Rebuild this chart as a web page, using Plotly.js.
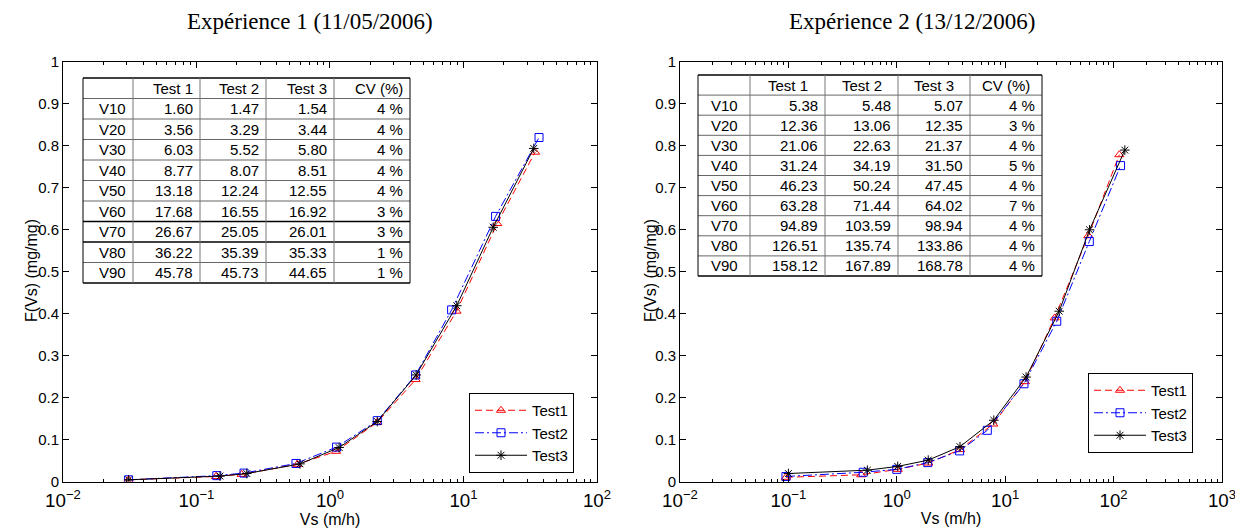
<!DOCTYPE html>
<html>
<head>
<meta charset="utf-8">
<script src="https://cdn.plot.ly/plotly-3.0.1.min.js"></script>
<style>html,body{margin:0;padding:0;background:#fff;}#chart{width:1235px;height:532px;}</style>
</head>
<body>
<div id="chart"></div>
<script>
// ---------- Data ----------
const seriesNames = ['Test1', 'Test2', 'Test3'];

// Expérience 1 (11/05/2006)
const exp1_test1_vs = [0.031, 0.140, 0.218, 0.570, 1.11, 2.26, 4.38, 8.87, 17.9, 34.4];
const exp1_test1_f  = [0.004, 0.012, 0.017, 0.041, 0.072, 0.141, 0.243, 0.406, 0.615, 0.785];
const exp1_test2_vs = [0.031, 0.142, 0.227, 0.556, 1.12, 2.26, 4.38, 8.15, 17.4, 36.8];
const exp1_test2_f  = [0.004, 0.014, 0.020, 0.043, 0.082, 0.145, 0.254, 0.409, 0.632, 0.820];
const exp1_test3_vs = [0.031, 0.150, 0.238, 0.596, 1.17, 2.26, 4.42, 8.90, 16.7, 33.6];
const exp1_test3_f  = [0.004, 0.013, 0.019, 0.042, 0.081, 0.143, 0.254, 0.419, 0.606, 0.794];

// Expérience 2 (13/12/2006)
const exp2_test1_vs = [0.095, 0.47, 1.02, 1.95, 3.83, 7.76, 15.2, 28.6, 58.5, 113];
const exp2_test1_f  = [0.010, 0.016, 0.029, 0.044, 0.076, 0.137, 0.238, 0.390, 0.586, 0.779];
const exp2_test2_vs = [0.095, 0.49, 1.00, 1.93, 3.80, 6.84, 14.9, 29.9, 59.7, 116];
const exp2_test2_f  = [0.012, 0.022, 0.029, 0.045, 0.073, 0.122, 0.233, 0.382, 0.572, 0.753];
const exp2_test3_vs = [0.100, 0.535, 1.02, 1.95, 3.83, 7.85, 15.6, 31.5, 60.0, 127];
const exp2_test3_f  = [0.019, 0.027, 0.036, 0.051, 0.083, 0.146, 0.249, 0.406, 0.600, 0.790];

// Axis tick label aliases (Plotly prints 10^0 and 10^1 as "1" and "10")
const xTickAlias = {'1': '10<sup>0</sup>', '10': '10<sup>1</sup>'};

// Tables
const tableHeader = ['', 'Test 1', 'Test 2', 'Test 3', 'CV (%)'];
const tableRows = ['V10', 'V20', 'V30', 'V40', 'V50', 'V60', 'V70', 'V80', 'V90'];
const exp1_tab_test1 = [1.60, 3.56, 6.03, 8.77, 13.18, 17.68, 26.67, 36.22, 45.78];
const exp1_tab_test2 = [1.47, 3.29, 5.52, 8.07, 12.24, 16.55, 25.05, 35.39, 45.73];
const exp1_tab_test3 = [1.54, 3.44, 5.80, 8.51, 12.55, 16.92, 26.01, 35.33, 44.65];
const exp1_tab_cv    = [4, 4, 4, 4, 4, 3, 3, 1, 1];
const exp2_tab_test1 = [5.38, 12.36, 21.06, 31.24, 46.23, 63.28, 94.89, 126.51, 158.12];
const exp2_tab_test2 = [5.48, 13.06, 22.63, 34.19, 50.24, 71.44, 103.59, 135.74, 167.89];
const exp2_tab_test3 = [5.07, 12.35, 21.37, 31.50, 47.45, 64.02, 98.94, 133.86, 168.78];
const exp2_tab_cv    = [4, 3, 4, 5, 4, 7, 4, 4, 4];

const titles = ['Expérience 1 (11/05/2006)', 'Expérience 2 (13/12/2006)'];
const xTitle = 'Vs (m/h)';
const yTitle = 'F(Vs) (mg/mg)';

// ---------- Layout helpers ----------
const W = 1235, H = 532;
const px = x => x / W;
const py = y => 1 - y / H;
const SANS = 'Liberation Sans, Arial, sans-serif';
const SERIF = 'Liberation Serif, Times New Roman, serif';

const styles = [
  {color: '#ff0000', dash: '7px,4px', symbol: 'triangle-up-open'},
  {color: '#0000ff', dash: '9px,3px,2px,3px', symbol: 'square-open'},
  {color: '#000000', dash: 'solid', symbol: 'asterisk-open'}
];

function mk(xs, ys, i, xa, ya, leg) {
  const s = styles[i];
  return {
    x: xs, y: ys, type: 'scatter', mode: 'lines+markers', name: seriesNames[i],
    xaxis: xa, yaxis: ya, legend: leg,
    line: {color: s.color, width: 1, dash: s.dash},
    marker: {symbol: s.symbol, size: 8, color: s.color, line: {color: s.color, width: 1}}
  };
}

const traces = [
  mk(exp1_test1_vs, exp1_test1_f, 0, 'x', 'y', 'legend'),
  mk(exp1_test2_vs, exp1_test2_f, 1, 'x', 'y', 'legend'),
  mk(exp1_test3_vs, exp1_test3_f, 2, 'x', 'y', 'legend'),
  mk(exp2_test1_vs, exp2_test1_f, 0, 'x2', 'y2', 'legend2'),
  mk(exp2_test2_vs, exp2_test2_f, 1, 'x2', 'y2', 'legend2'),
  mk(exp2_test3_vs, exp2_test3_f, 2, 'x2', 'y2', 'legend2')
];

const yDom = [py(481.5), py(62)];
function xAxis(dom, rng, anchor) {
  return {
    type: 'log', domain: dom, range: rng, anchor: anchor,
    tickmode: 'linear', tick0: 0, dtick: 1, exponentformat: 'power', showexponent: 'all',
    labelalias: xTickAlias, ticklabelstandoff: 3, ticklabeloverflow: 'allow',
    showline: true, linecolor: '#000', linewidth: 1, mirror: 'allticks',
    ticks: 'inside', ticklen: 6, tickcolor: '#000', showgrid: false, zeroline: false,
    minor: {ticks: 'inside', ticklen: 3, tickcolor: '#000', showgrid: false},
    tickfont: {family: SANS, size: 15, color: '#000'},
    title: {text: xTitle, font: {family: SANS, size: 16, color: '#000'}, standoff: 2}
  };
}
function yAxis(anchor) {
  return {
    domain: yDom, range: [0, 1], anchor: anchor, dtick: 0.1,
    showline: true, linecolor: '#000', linewidth: 1, mirror: 'allticks',
    ticks: 'inside', ticklen: 6, tickcolor: '#000', showgrid: false, zeroline: false,
    tickfont: {family: SANS, size: 15, color: '#000'}
  };
}

const shapes = [];
const annotations = [];

function addTable(cols, top, rowH, c1, c2, c3, cv, opt) {
  const nRows = tableRows.length + 1;
  const bottom = top + rowH * nRows;
  const left = cols[0], right = cols[cols.length - 1];
  for (let r = 0; r <= nRows; r++) {
    const y = top + r * rowH;
    const outer = (r === 0 || r === nRows);
    const dark = outer || (opt.darkRows && opt.darkRows.indexOf(r) >= 0);
    shapes.push({type: 'line', xref: 'paper', yref: 'paper',
      x0: px(left), x1: px(right), y0: py(y), y1: py(y),
      line: {color: dark ? '#000' : '#666', width: dark ? 1.3 : 1}});
  }
  cols.forEach((x, k) => {
    const outer = (k === 0 || k === cols.length - 1);
    shapes.push({type: 'line', xref: 'paper', yref: 'paper',
      x0: px(x), x1: px(x), y0: py(top), y1: py(bottom),
      line: {color: outer ? '#000' : '#777', width: 1}});
  });
  const font = {family: SANS, size: 15, color: '#000'};
  tableHeader.forEach((t, k) => {
    if (!t) return;
    const xc = opt.headerCenter ? (cols[k] + cols[k + 1]) / 2 : cols[k + 1] - 5;
    annotations.push({xref: 'paper', yref: 'paper', x: px(xc), y: py(top + rowH / 2),
      text: t, showarrow: false, xanchor: opt.headerCenter ? 'center' : 'right', yanchor: 'middle', font: font});
  });
  tableRows.forEach((lab, r) => {
    const yc = py(top + rowH * (r + 1.5));
    const x0 = opt.labelCenter ? (cols[0] + cols[1]) / 2 : cols[1] - 5;
    annotations.push({xref: 'paper', yref: 'paper', x: px(x0), y: yc, text: lab, showarrow: false,
      xanchor: opt.labelCenter ? 'center' : 'right', yanchor: 'middle', font: font});
    [c1, c2, c3].forEach((arr, k) => {
      annotations.push({xref: 'paper', yref: 'paper', x: px(cols[k + 2] - 5), y: yc,
        text: arr[r].toFixed(2), showarrow: false, xanchor: 'right', yanchor: 'middle', font: font});
    });
    annotations.push({xref: 'paper', yref: 'paper', x: px(cols[5] - 5), y: yc,
      text: cv[r] + ' %', showarrow: false, xanchor: 'right', yanchor: 'middle', font: font});
  });
}

addTable([83, 133, 200, 266, 334, 410], 78, 20.5, exp1_tab_test1, exp1_tab_test2, exp1_tab_test3, exp1_tab_cv,
  {headerCenter: false, labelCenter: false, darkRows: [7, 8]});
addTable([698, 750, 825, 898, 970, 1042], 75, 20.1, exp2_tab_test1, exp2_tab_test2, exp2_tab_test3, exp2_tab_cv,
  {headerCenter: true, labelCenter: true, darkRows: []});

// chart titles
annotations.push({xref: 'paper', yref: 'paper', x: px(310), y: py(22), text: titles[0], showarrow: false,
  xanchor: 'center', yanchor: 'middle', font: {family: SERIF, size: 23, color: '#000'}});
annotations.push({xref: 'paper', yref: 'paper', x: px(912), y: py(22), text: titles[1], showarrow: false,
  xanchor: 'center', yanchor: 'middle', font: {family: SERIF, size: 23, color: '#000'}});
// y-axis titles
[31, 650].forEach(xc => {
  annotations.push({xref: 'paper', yref: 'paper', x: px(xc), y: py(271), text: yTitle, textangle: -90,
    showarrow: false, xanchor: 'center', yanchor: 'middle', font: {family: SANS, size: 16, color: '#000'}});
});

const legendStyle = (x, y) => ({
  x: px(x), y: py(y), xanchor: 'left', yanchor: 'top', xref: 'paper', yref: 'paper',
  bgcolor: '#fff', bordercolor: '#000', borderwidth: 1,
  font: {family: SANS, size: 15, color: '#000'}, tracegroupgap: 0, itemwidth: 52
});

const layout = {
  width: W, height: H,
  margin: {l: 0, r: 0, t: 0, b: 0},
  paper_bgcolor: '#fff', plot_bgcolor: '#fff',
  showlegend: true,
  xaxis: xAxis([px(63), px(597)], [-2, 2.0002], 'y'),
  yaxis: yAxis('x'),
  xaxis2: xAxis([px(680), px(1222)], [-2, 3.0002], 'y2'),
  yaxis2: yAxis('x2'),
  legend: legendStyle(469, 393),
  legend2: legendStyle(1088, 373),
  shapes: shapes,
  annotations: annotations
};

Plotly.newPlot('chart', traces, layout, {staticPlot: true, displayModeBar: false});
</script>
</body>
</html>
